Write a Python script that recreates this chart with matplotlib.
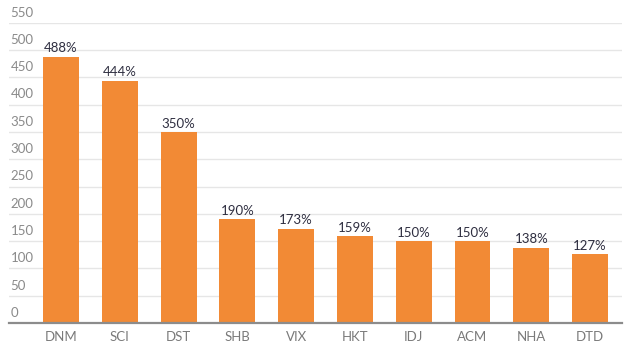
import matplotlib.pyplot as plt
import matplotlib.transforms as mtransforms
import numpy as np

plt.rcParams['font.family'] = ['Lato', 'DejaVu Sans']

tickers = ['DNM', 'SCI', 'DST', 'SHB', 'VIX', 'HKT', 'IDJ', 'ACM', 'NHA', 'DTD']
values = [488, 444, 350, 190, 173, 159, 150, 150, 138, 127]
yticks = list(range(0, 551, 50))

fig = plt.figure(figsize=(6.3, 3.57), dpi=100)
ax = fig.add_axes([0.0143, 0.0952, 0.973, 0.841])

x = np.arange(len(tickers))
ax.bar(x, values, width=0.61, color='#F28A35', zorder=3)

for xi, v in zip(x, values):
    ax.text(xi, v + 4, f'{v}%', ha='center', va='bottom', fontsize=9.5,
            color='#2E2E40', zorder=4)

ax.set_xlim(-0.885, 9.544)
ax.set_ylim(0, 550)
ax.set_yticks(yticks)
ax.set_xticks(x)
ax.set_xticklabels(tickers)

ax.grid(axis='y', color='#E6E6E6', linewidth=1, zorder=0)
for s in ['top', 'right', 'left']:
    ax.spines[s].set_visible(False)
ax.spines['bottom'].set_color('#8C8C8C')
ax.spines['bottom'].set_linewidth(1.6)
ax.spines['bottom'].set_zorder(5)

ax.tick_params(axis='y', length=0, pad=-1, labelsize=9.5, labelcolor='#8A8A8A')
ax.tick_params(axis='x', length=0, pad=6, labelsize=9.5, labelcolor='#7A7A7A')
# labels sit a little above their grid line
shift = mtransforms.ScaledTranslation(0, 3 / 72, fig.dpi_scale_trans)
for lab in ax.get_yticklabels():
    lab.set_horizontalalignment('left')
    lab.set_verticalalignment('bottom')
    lab.set_transform(lab.get_transform() + shift)

fig.savefig('out.png', dpi=100)
